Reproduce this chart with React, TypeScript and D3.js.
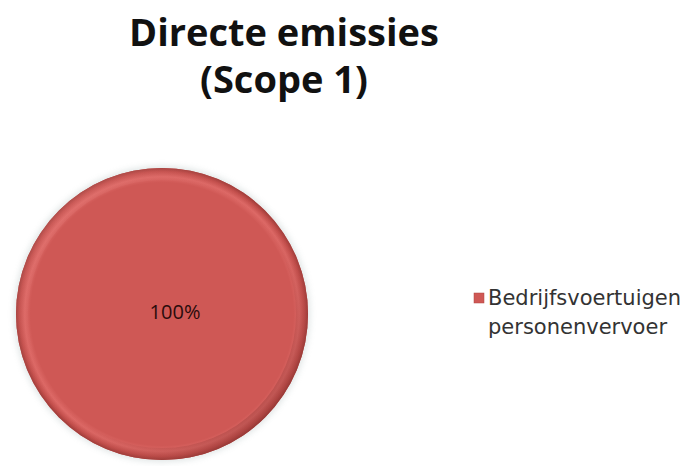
import React from "react";
import * as d3 from "d3";

const categories = ["Bedrijfsvoertuigen personenvervoer"];
const values = [100];
const labels = ["100%"];
const titleLines = ["Directe emissies", "(Scope 1)"];
const legendLines = ["Bedrijfsvoertuigen", "personenvervoer"];

export default function App() {
  const W = 689, H = 466;
  const cx = 162, cy = 314, R = 146;
  const pie = d3.pie<number>().sort(null)(values);
  const arcOuter = d3.arc<d3.PieArcDatum<number>>().innerRadius(0).outerRadius(R);
  const arcRim = d3.arc<d3.PieArcDatum<number>>().innerRadius(R - 12).outerRadius(R);
  const color = d3.scaleOrdinal<string, string>().domain(categories).range(["#CF5855"]);
  return (
    <svg width={W} height={H} style={{ position: "absolute", left: 0, top: 0, background: "#fff" }}
      fontFamily="'Open Sans', sans-serif">
      <defs>
        <radialGradient id="bevel" cx="0.5" cy="0.5" r="0.5">
          <stop offset="0" stopColor="#CF5855" />
          <stop offset="0.9" stopColor="#CF5855" />
          <stop offset="0.94" stopColor="#DD6966" />
          <stop offset="0.975" stopColor="#C24E4B" />
          <stop offset="1" stopColor="#9C3B38" />
        </radialGradient>
        <linearGradient id="shade" x1="0" y1="0" x2="1" y2="1">
          <stop offset="0" stopColor="#F29592" stopOpacity="0.35" />
          <stop offset="0.5" stopColor="#CF5855" stopOpacity="0" />
          <stop offset="1" stopColor="#6E2523" stopOpacity="0.55" />
        </linearGradient>
        <filter id="sh" x="-20%" y="-20%" width="140%" height="140%">
          <feGaussianBlur stdDeviation="3" />
        </filter>
      </defs>
      <text textAnchor="middle" fontWeight="bold" fontSize={38} fill="#111">
        {titleLines.map((t, i) => (
          <tspan key={i} x={284} y={46 + i * 47}>{t}</tspan>
        ))}
      </text>
      <g transform={`translate(${cx},${cy})`}>
        <circle r={R + 2} fill="#99aaaa" opacity={0.3} filter="url(#sh)" />
        {pie.map((d, i) => (
          <g key={i}>
            <path d={arcOuter(d) || ""} fill={color(categories[i])} />
            <circle r={R} fill="url(#bevel)" />
            <path d={arcRim(d) || ""} fill="url(#shade)" />
            <text textAnchor="middle" x={13} y={5} fontSize={20} fill="#2a0c0c">{labels[i]}</text>
          </g>
        ))}
      </g>
      <rect x={474} y={293} width={10} height={10} fill={color(categories[0])} stroke="#B04542" strokeWidth={0.5} />
      <text fontSize={21} fill="#333" fontFamily="'DejaVu Sans', sans-serif">
        {legendLines.map((t, i) => (
          <tspan key={i} x={488} y={305 + i * 29}>{t}</tspan>
        ))}
      </text>
    </svg>
  );
}
